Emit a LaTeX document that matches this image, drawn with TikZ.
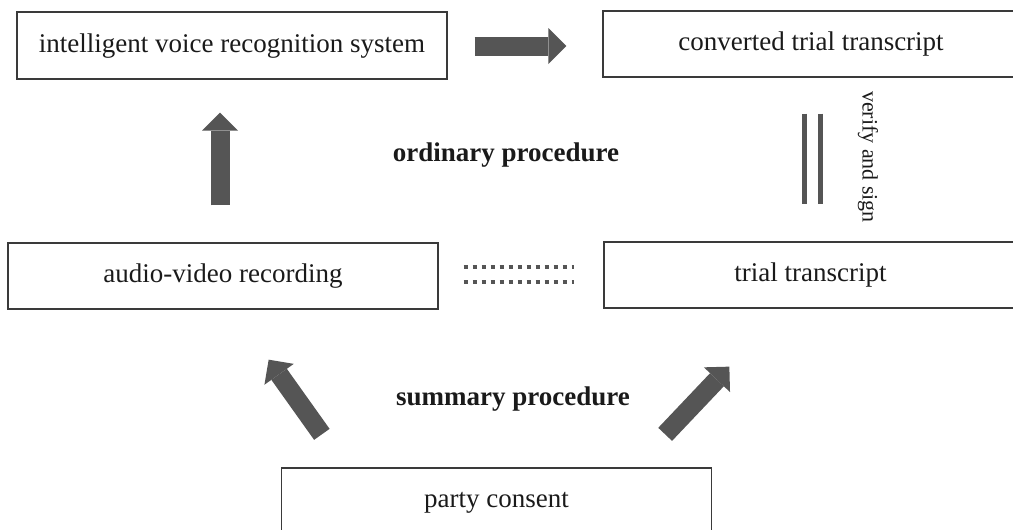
\documentclass[tikz,border=0pt]{standalone}
\usepackage{fontspec}
\setmainfont{Liberation Serif}
\usetikzlibrary{arrows.meta,calc}
\definecolor{arrowgray}{HTML}{555555}
\definecolor{boxline}{HTML}{3A3A3A}
\definecolor{txt}{HTML}{1A1A1A}
\begin{document}
\begin{tikzpicture}[x=1pt,y=-1pt,
  box/.style={draw=boxline, line width=1.3pt, minimum width=430pt, minimum height=66pt,
    inner sep=0pt, text=txt, text height=19pt, text depth=6pt, font=\fontsize{27}{32}\selectfont},
  proclabel/.style={text=txt, font=\fontsize{27}{32}\selectfont\bfseries},
  sidelabel/.style={text=txt, font=\fontsize{22}{26}\selectfont},
  blockarrow/.style={draw=arrowgray, line width=19pt, -{Triangle[width=36pt,length=18pt,line width'=0pt]}},
  dotline/.style={draw=arrowgray, line width=4pt, dash pattern=on 4pt off 5pt},
  barline/.style={draw=arrowgray, line width=5pt}]
\useasboundingbox (0,0) rectangle (1013,530);
\clip (0,0) rectangle (1013,530);

\node[box, minimum height=67pt] (b1) at (232,45.5) {intelligent voice recognition system};
\node[box, minimum width=416pt] (b2) at (811,44) {converted trial transcript};
\node[box] (b3) at (223,276) {audio-video recording};
\node[box, minimum width=413pt] (b4) at (810.5,275) {trial transcript};
\node[box] (b5) at (496.5,501) {party consent};

\node[proclabel] (ord) at (506,155) {ordinary procedure};
\node[proclabel] (sum) at (513,399) {summary procedure};
\node[sidelabel, rotate=-90] (vs) at (868,157) {verify and sign};

% arrows
\draw[blockarrow, shorten <=27pt, shorten >=36pt] ($(b1.east)+(0,0.5)$) -- ($(b2.west)+(0,2)$);
\draw[blockarrow, shorten <=37pt, shorten >=33pt] ($(b3.north)+(-3,0)$) -- ($(b1.south)+(-12,0)$);
\draw[blockarrow] ($(b5.north west)+(41,-33)$) -- ($(b3.south east)+(-170,50)$);
\draw[blockarrow] ($(b5.north east)+(-47,-33)$) -- ($(b4.south west)+(126,58)$);

% dotted double link
\draw[dotline, shorten <=25pt, shorten >=29pt] ($(b3.east)+(0,-9)$) -- ($(b4.west)+(0,-8)$);
\draw[dotline, shorten <=25pt, shorten >=29pt] ($(b3.east)+(0,6)$) -- ($(b4.west)+(0,7)$);

% verify bars
\draw[barline, shorten <=36pt, shorten >=37pt] ($(b2.south)+(-7,0)$) -- ($(b4.north)+(-6.5,0)$);
\draw[barline, shorten <=36pt, shorten >=37pt] ($(b2.south)+(9,0)$) -- ($(b4.north)+(9.5,0)$);
\end{tikzpicture}
\end{document}
